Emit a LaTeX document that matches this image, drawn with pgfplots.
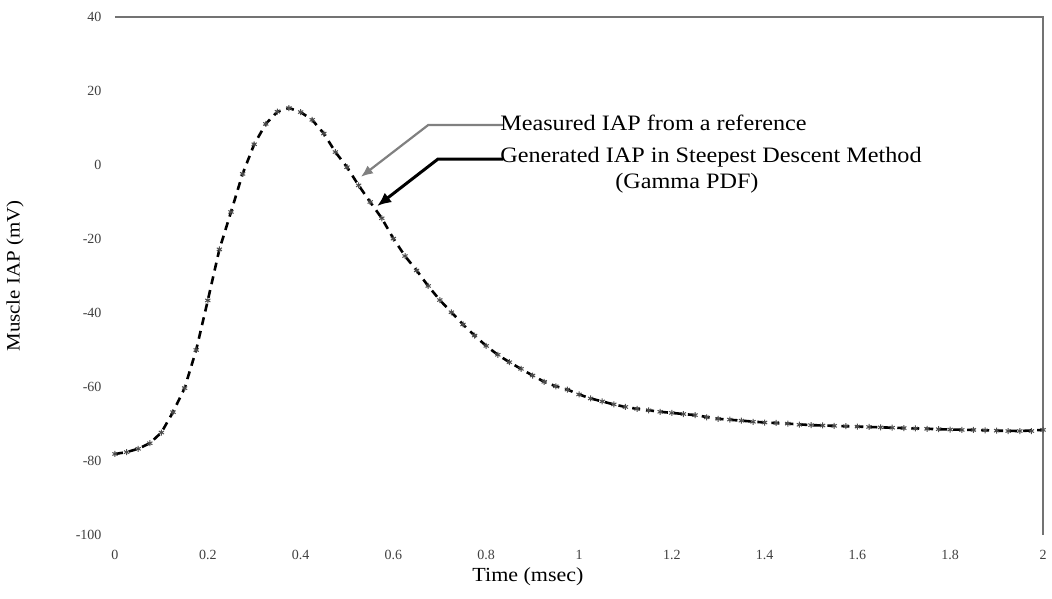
\documentclass[border=0pt]{standalone}
\usepackage{fontspec}
\setmainfont{Liberation Serif}
\newfontfamily\annfont[FakeStretch=1.1]{Liberation Serif}
\usepackage{pgfplots}
\usepackage{pgfplotstable}
\pgfplotsset{compat=1.18}
\usetikzlibrary{arrows.meta}

\pgfplotstableread{
x y
0 -78.1
0.025 -77.6
0.05 -76.7
0.075 -75.2
0.1 -72.3
0.125 -66.8
0.15 -60.3
0.175 -50
0.2 -36.6
0.225 -22.8
0.25 -12.7
0.275 -2.4
0.3 5.6
0.325 11.1
0.35 14.4
0.375 15.4
0.4 14.3
0.425 12.2
0.45 8.5
0.475 3.5
0.5 -0.6
0.525 -5.5
0.55 -10
0.575 -14.4
0.6 -19.9
0.625 -24.6
0.65 -28.5
0.675 -32.7
0.7 -36.5
0.725 -39.8
0.75 -43.1
0.775 -46.1
0.8 -48.9
0.825 -51.3
0.85 -53.3
0.875 -55.1
0.9 -56.9
0.925 -58.6
0.95 -59.8
0.975 -60.7
1.0 -62.0
1.025 -63.1
1.05 -63.9
1.075 -64.7
1.1 -65.4
1.125 -65.9
1.15 -66.3
1.175 -66.7
1.2 -67.0
1.225 -67.3
1.25 -67.6
1.275 -68.2
1.3 -68.6
1.325 -68.8
1.35 -69.1
1.375 -69.4
1.4 -69.6
1.425 -69.7
1.45 -69.9
1.475 -70.2
1.5 -70.3
1.525 -70.4
1.55 -70.5
1.575 -70.6
1.6 -70.7
1.625 -70.8
1.65 -70.9
1.675 -71.0
1.7 -71.1
1.725 -71.2
1.75 -71.3
1.775 -71.4
1.8 -71.5
1.825 -71.6
1.85 -71.6
1.875 -71.7
1.9 -71.8
1.925 -71.9
1.95 -71.9
1.975 -71.9
2.0 -71.6
}\measured

\pgfplotstableread{
x y
0 -78.1
0.025 -77.6
0.05 -76.7
0.075 -75.2
0.1 -72.3
0.125 -66.8
0.15 -60.3
0.175 -50
0.2 -36.6
0.225 -22.8
0.25 -12.7
0.275 -2.4
0.3 5.6
0.325 11.1
0.35 14.4
0.375 15.4
0.4 14.3
0.425 12.2
0.45 8.5
0.475 3.5
0.5 -0.6
0.525 -5.5
0.55 -10
0.575 -14.4
0.6 -19.9
0.625 -24.6
0.65 -28.5
0.675 -32.7
0.7 -36.5
0.725 -39.8
0.75 -43.1
0.775 -46.1
0.8 -48.9
0.825 -51.3
0.85 -53.3
0.875 -55.1
0.9 -56.9
0.925 -58.6
0.95 -59.8
0.975 -60.7
1.0 -62.0
1.025 -63.1
1.05 -63.9
1.075 -64.7
1.1 -65.4
1.125 -65.9
1.15 -66.3
1.175 -66.7
1.2 -67.0
1.25 -67.6
1.3 -68.6
1.35 -69.1
1.4 -69.6
1.45 -69.9
1.5 -70.3
1.55 -70.5
1.6 -70.7
1.65 -70.9
1.7 -71.1
1.75 -71.3
1.8 -71.5
1.85 -71.6
1.9 -71.8
1.95 -71.9
2.0 -71.6
}\generated

\begin{document}
\begin{tikzpicture}
\useasboundingbox (-115pt,-64pt) rectangle (937pt,535pt);
\begin{axis}[
  at={(0,0)}, anchor=south west,
  width=928pt, height=518pt, scale only axis,
  xmin=0, xmax=2, ymin=-100, ymax=40,
  xtick={0,0.2,0.4,0.6,0.8,1,1.2,1.4,1.6,1.8,2},
  ytick={-100,-80,-60,-40,-20,0,20,40},
  axis line style={draw=none},
  tick style={draw=none},
  major tick length=0pt,
  /pgf/number format/assume math mode=true,
  xticklabel style={font=\fontsize{14}{16}\selectfont, text=black!75, anchor=center, yshift=-20pt},
  yticklabel style={font=\fontsize{14}{16}\selectfont, text=black!75, anchor=east, xshift=-10pt},
  xlabel={Time (msec)},
  ylabel={Muscle IAP (mV)},
  every axis x label/.style={at={(axis description cs:0.445,-0.081)}, anchor=center, font=\annfont\fontsize{20}{24}\selectfont},
  every axis y label/.style={at={(axis description cs:-0.1078,0.5)}, rotate=90, anchor=center, font=\annfont\fontsize{19}{23}\selectfont},
  clip=false,
]
\addplot[black, line width=2.6pt, dash pattern=on 8pt off 6pt, no marks] table[x=x,y=y] {\generated};
\addplot[draw=none, mark=asterisk, mark size=3pt, mark options={black!70, line width=1pt, solid}] table[x=x,y=y] {\measured};

\draw[black!55, line width=1.2pt] (rel axis cs:0,1) -- (rel axis cs:1,1) -- (rel axis cs:1,0);

\draw[black!50, line width=2.2pt, -{Latex[length=12pt,width=10pt]}] (axis cs:0.836,10.8) -- (axis cs:0.675,10.8) -- (axis cs:0.530,-3.2);
\draw[black, line width=3pt, -{Latex[length=14pt,width=12pt]}] (axis cs:0.836,1.6) -- (axis cs:0.696,1.6) -- (axis cs:0.565,-11.1);

\node[anchor=west, inner sep=0pt, font=\annfont\fontsize{22}{26}\selectfont] at (axis cs:0.830,11.4) {Measured IAP from a reference};
\node[anchor=west, inner sep=0pt, font=\annfont\fontsize{22}{26}\selectfont] at (axis cs:0.830,2.2) {Generated IAP in Steepest Descent Method};
\node[anchor=west, inner sep=0pt, font=\annfont\fontsize{22}{26}\selectfont] at (axis cs:1.078,-4.9) {(Gamma PDF)};
\end{axis}
\end{tikzpicture}
\end{document}
